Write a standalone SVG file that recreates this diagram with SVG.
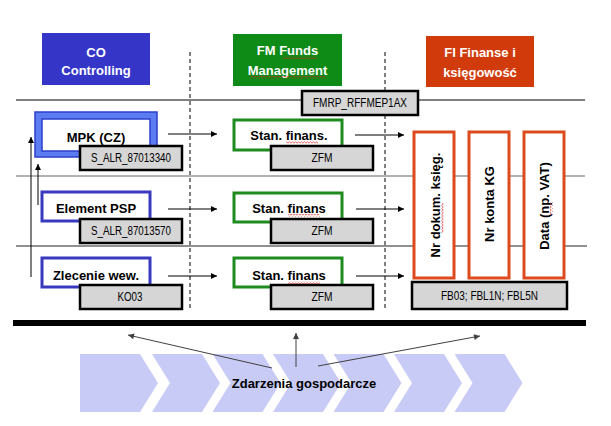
<svg xmlns="http://www.w3.org/2000/svg" width="611" height="426" viewBox="0 0 611 426">
<style>
.hdr{font-family:"Liberation Sans",Arial,sans-serif;font-weight:bold;font-size:13px;fill:#fff;text-anchor:middle}
.lbl{font-family:"Liberation Sans",Arial,sans-serif;font-weight:bold;font-size:13px;fill:#000;text-anchor:middle}
.code{font-family:"Liberation Sans",Arial,sans-serif;font-size:12px;fill:#000;text-anchor:middle}
.grey{fill:#D6D6D6;stroke:#000;stroke-width:2.5}
.blue{fill:#fff;stroke:#3939C0;stroke-width:3}
.green{fill:#fff;stroke:#1E8B1E;stroke-width:3}
.orange{fill:#fff;stroke:#DC4A1E;stroke-width:3}
.row{stroke-width:1.2;fill:none}
.dash{stroke:#000;stroke-width:1;stroke-dasharray:4,3;fill:none}
.arr{stroke:#000;stroke-width:1;fill:none;marker-end:url(#ah)}
.garr{stroke:#404040;stroke-width:1;fill:none;marker-end:url(#gh)}
.chev{fill:#C9CBF7}
</style>
<defs>
<marker id="ah" viewBox="0 0 10 10" refX="10" refY="5" markerWidth="7" markerHeight="6" markerUnits="userSpaceOnUse" orient="auto"><path d="M0,0 L10,5 L0,10 z" fill="#000"/></marker>
<marker id="gh" viewBox="0 0 10 10" refX="10" refY="5" markerWidth="7" markerHeight="6" markerUnits="userSpaceOnUse" orient="auto"><path d="M0,0 L10,5 L0,10 z" fill="#404040"/></marker>
<pattern id="wave" width="3" height="3" patternUnits="userSpaceOnUse"><path d="M0,2.2 L1.5,0.8 L3,2.2" stroke="#E02020" stroke-width="0.7" fill="none"/></pattern>
<pattern id="wavev" width="3" height="3" patternUnits="userSpaceOnUse"><path d="M2.2,0 L0.8,1.5 L2.2,3" stroke="#E02020" stroke-width="0.7" fill="none"/></pattern>
</defs>
<rect width="611" height="426" fill="#fff"/>

<g id="grid">
<line class="row" x1="16" y1="100" x2="585" y2="100" stroke="#000"/>
<line class="row" x1="16" y1="176" x2="585" y2="176" stroke="#666"/>
<line class="row" x1="16" y1="246" x2="587" y2="246" stroke="#222"/>
<line class="dash" x1="190" y1="52" x2="190" y2="310"/>
<line class="dash" x1="385" y1="52" x2="385" y2="310"/>
<rect x="13" y="320" width="573" height="6" fill="#000"/>
</g>

<g id="events">
<path class="chev" d="M80,354 L140,354 L158,383 L140,412 L80,412 z"/>
<path class="chev" d="M152,354 L202,354 L220,383 L202,412 L152,412 L170,383 z"/>
<path class="chev" d="M212.5,354 L262.5,354 L280.5,383 L262.5,412 L212.5,412 L230.5,383 z"/>
<path class="chev" d="M273,354 L323,354 L341,383 L323,412 L273,412 L291,383 z"/>
<path class="chev" d="M333.5,354 L383.5,354 L401.5,383 L383.5,412 L333.5,412 L351.5,383 z"/>
<path class="chev" d="M394,354 L444,354 L462,383 L444,412 L394,412 L412,383 z"/>
<path class="chev" d="M454.5,354 L504.5,354 L522.5,383 L504.5,412 L454.5,412 L472.5,383 z"/>
<text x="304" y="388" class="lbl" fill="#000022">Zdarzenia gospodarcze</text>
</g>

<g id="co-header"><rect x="42" y="33" width="108" height="52" fill="#3535C8"/>
<text x="96" y="57" class="hdr">CO</text><text x="96" y="75" class="hdr">Controlling</text></g>
<g id="fm-header"><rect x="233" y="34" width="109" height="52" fill="#0E8A16"/>
<text x="287.5" y="55" class="hdr">FM Funds</text><text x="287.5" y="75" class="hdr">Management</text>
<rect x="283" y="56" width="34" height="3" fill="url(#wave)"/><rect x="250" y="76" width="76" height="3" fill="url(#wave)"/></g>
<g id="fi-header"><rect x="426" y="36" width="108" height="51" fill="#D13B0B"/>
<text x="480" y="57" class="hdr">FI Finanse i</text><text x="480" y="77" class="hdr">księgowość</text></g>

<g id="fmrp"><rect class="grey" x="302" y="91" width="116" height="24"/><text x="360" y="107" class="code" textLength="94" lengthAdjust="spacingAndGlyphs">FMRP_RFFMEP1AX</text></g>

<g id="mpk"><rect x="35" y="112" width="122" height="45" fill="#5C7CF2" stroke="#2B3FCB" stroke-width="1.5"/>
<rect x="42" y="119" width="108" height="32" fill="#fff" stroke="#2B3FCB" stroke-width="1.5"/>
<text x="96" y="142" class="lbl">MPK (CZ)</text></g>
<g id="s-alr-1"><rect class="grey" x="80" y="146" width="102" height="24"/><text x="131" y="162" class="code" textLength="80" lengthAdjust="spacingAndGlyphs">S_ALR_87013340</text></g>

<g id="element-psp"><rect class="blue" x="42" y="192" width="108" height="29"/><text x="96" y="213" class="lbl">Element PSP</text></g>
<g id="s-alr-2"><rect class="grey" x="80" y="219" width="102" height="24"/><text x="131" y="235" class="code" textLength="80" lengthAdjust="spacingAndGlyphs">S_ALR_87013570</text></g>

<g id="zlecenie"><rect class="blue" x="42" y="258" width="108" height="29"/><text x="96" y="280" class="lbl">Zlecenie wew.</text></g>
<g id="ko03"><rect class="grey" x="80" y="285" width="102" height="24"/><text x="130" y="301" class="code" textLength="25" lengthAdjust="spacingAndGlyphs">KO03</text></g>

<g id="stan-1"><rect class="green" x="234" y="120" width="108" height="30"/><text x="289" y="140" class="lbl">Stan. finans.</text>
<rect x="286" y="141" width="32" height="3" fill="url(#wave)"/></g>
<g id="zfm-1"><rect class="grey" x="271" y="146" width="102" height="24"/><text x="322" y="162" class="code" textLength="21" lengthAdjust="spacingAndGlyphs">ZFM</text></g>

<g id="stan-2"><rect class="green" x="234" y="193" width="108" height="29"/><text x="289" y="213" class="lbl">Stan. finans</text>
<rect x="288" y="214" width="32" height="3" fill="url(#wave)"/></g>
<g id="zfm-2"><rect class="grey" x="271" y="219" width="102" height="24"/><text x="322" y="235" class="code" textLength="21" lengthAdjust="spacingAndGlyphs">ZFM</text></g>

<g id="stan-3"><rect class="green" x="234" y="258" width="108" height="29"/><text x="289" y="280" class="lbl">Stan. finans</text>
<rect x="288" y="281" width="32" height="3" fill="url(#wave)"/></g>
<g id="zfm-3"><rect class="grey" x="271" y="285" width="102" height="24"/><text x="322" y="301" class="code" textLength="21" lengthAdjust="spacingAndGlyphs">ZFM</text></g>

<g id="nr-dokum"><rect class="orange" x="414" y="132" width="40" height="146"/>
<text transform="translate(440,205) rotate(-90)" class="lbl">Nr dokum. księg.</text>
<rect x="441" y="203" width="3" height="30" fill="url(#wavev)"/></g>
<g id="nr-konta"><rect class="orange" x="469" y="132" width="40" height="146"/>
<text transform="translate(494,204) rotate(-90)" class="lbl">Nr konta KG</text></g>
<g id="data"><rect class="orange" x="524" y="132" width="40" height="146"/>
<text transform="translate(549,206) rotate(-90)" class="lbl">Data (np. VAT)</text>
<rect x="550" y="202" width="3" height="13" fill="url(#wavev)"/></g>
<g id="fb03"><rect class="grey" x="412" y="282" width="155" height="27"/><text x="489.5" y="300" class="code" textLength="97" lengthAdjust="spacingAndGlyphs">FB03; FBL1N; FBL5N</text></g>

<g id="connectors">
<line class="arr" x1="168" y1="134" x2="217" y2="134"/>
<line class="arr" x1="168" y1="209" x2="217" y2="209"/>
<line class="arr" x1="168" y1="276" x2="217" y2="276"/>
<line class="arr" x1="355" y1="135" x2="404" y2="135"/>
<line class="arr" x1="356" y1="209" x2="404" y2="209"/>
<line class="arr" x1="356" y1="276" x2="404" y2="276"/>
<line class="arr" x1="31" y1="277" x2="31" y2="137"/>
<line class="arr" x1="38" y1="205" x2="38" y2="164"/>
<line class="garr" x1="272" y1="368" x2="128" y2="335"/>
<line class="garr" x1="296" y1="367" x2="296" y2="333"/>
<line class="garr" x1="318" y1="366" x2="480" y2="336"/>
</g>
</svg>
